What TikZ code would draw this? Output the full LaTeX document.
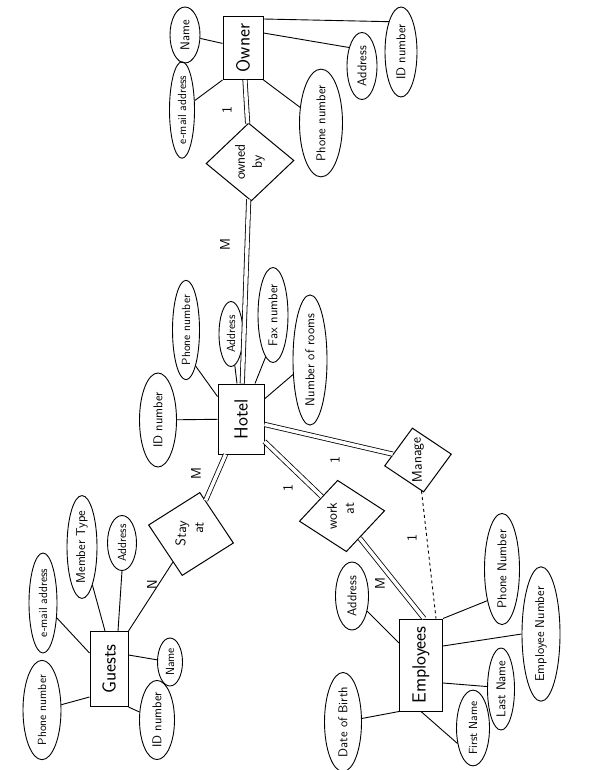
\documentclass[tikz,border=0pt]{standalone}
\usepackage{graphicx}
\usetikzlibrary{shapes.geometric}
\newcommand{\rtx}[1]{\rotatebox{90}{#1}}
\begin{document}
\begin{tikzpicture}[x=1pt,y=-1pt,
  ent/.style={draw,rectangle,line width=1pt,inner sep=0pt,font=\sffamily\fontsize{19}{21}\selectfont},
  attr/.style={draw,ellipse,line width=0.9pt,inner sep=0pt,font=\sffamily\fontsize{12.8}{15}\selectfont},
  sm/.style={font=\sffamily\fontsize{11.8}{14}\selectfont},
  rel/.style={draw,diamond,line width=1pt,inner sep=0pt,font=\sffamily\fontsize{14}{17}\selectfont},
  card/.style={font=\sffamily\fontsize{14}{16}\selectfont,rotate=90,inner sep=0pt},
  link/.style={line width=0.9pt},
  dlink/.style={double,double distance=3.5pt,line width=0.8pt},
]
\useasboundingbox (0,0) rectangle (592,770);

% entities
\node[ent,minimum width=40pt,minimum height=63pt] (owner) at (243,48) {\rtx{Owner}};
\node[ent,minimum width=46pt,minimum height=70pt] (hotel) at (241,419) {\rtx{Hotel}};
\node[ent,minimum width=38pt,minimum height=75pt] (guests) at (109,669) {\rtx{Guests}};
\node[ent,minimum width=43pt,minimum height=92pt] (emp) at (421,665) {\rtx{Employees}};

% relationships (shapes tilted, text kept upright-rotated)
\node[rel,rotate=92,minimum width=78pt,minimum height=88pt] (ownedby) at (250,162) {\rotatebox{-2}{\begin{tabular}{@{}c@{}}owned\\by\end{tabular}}};
\node[rel,rotate=78,minimum width=85pt,minimum height=87pt] (stayat) at (191,534) {\rotatebox{8}{\begin{tabular}{@{}r@{}}Stay\\at\end{tabular}}};
\node[rel,rotate=97,minimum width=72pt,minimum height=86pt] (workat) at (342,516) {\rotatebox{-7}{\begin{tabular}{@{}r@{}}work\\at\end{tabular}}};
\node[rel,rotate=100,minimum width=65pt,minimum height=68pt] (manage) at (418,460) {\rotatebox{-8}{Manage}};

% owner attributes
\node[attr,minimum width=30pt,minimum height=56pt] (oname) at (185,35) {\rtx{Name}};
\node[attr,sm,minimum width=25pt,minimum height=95pt] (oemail) at (182,110) {\rtx{e-mail address}};
\node[attr,minimum width=43pt,minimum height=93pt] (ophone) at (321,123) {\rtx{Phone number}};
\node[attr,minimum width=30pt,minimum height=67pt] (oaddr) at (362,66) {\rtx{Address}};
\node[attr,minimum width=32pt,minimum height=90pt] (oid) at (401,52) {\rtx{ID number}};

% hotel attributes
\node[attr,sm,minimum width=27pt,minimum height=94pt] (hphone) at (186,330) {\rtx{Phone number}};
\node[attr,sm,minimum width=24pt,minimum height=65pt] (haddr) at (231,334) {\rtx{Address}};
\node[attr,minimum width=30pt,minimum height=95pt] (hfax) at (273,315) {\rtx{Fax number}};
\node[attr,minimum width=34pt,minimum height=126pt] (hrooms) at (310,360) {\rtx{Number of rooms}};
\node[attr,minimum width=37pt,minimum height=94pt] (hid) at (158,420) {\rtx{ID number}};

% guests attributes
\node[attr,sm,minimum width=38pt,minimum height=95pt] (gphone) at (42,710) {\rtx{Phone number}};
\node[attr,sm,minimum width=28pt,minimum height=100pt] (gemail) at (43,603) {\rtx{e-mail address}};
\node[attr,minimum width=30pt,minimum height=95pt] (gtype) at (82,547) {\rtx{Member Type}};
\node[attr,sm,minimum width=29pt,minimum height=55pt] (gaddr) at (122,543) {\rtx{Address}};
\node[attr,sm,minimum width=25pt,minimum height=48pt] (gname) at (170,662) {\rtx{Name}};
\node[attr,minimum width=35pt,minimum height=78pt] (gid) at (157,720) {\rtx{ID number}};

% employee attributes
\node[attr,minimum width=33pt,minimum height=68pt] (eaddr) at (352,596) {\rtx{Address}};
\node[attr,minimum width=35pt,minimum height=108pt] (ephone) at (502,569) {\rtx{Phone Number}};
\node[attr,minimum width=38pt,minimum height=125pt] (enum) at (541,634) {\rtx{Employee Number}};
\node[attr,minimum width=27pt,minimum height=82pt] (elast) at (501,689) {\rtx{Last Name}};
\node[attr,sm,minimum width=33pt,minimum height=65pt] (efirst) at (473,728) {\rtx{First Name}};
\node[attr,minimum width=37pt,minimum height=83pt] (edob) at (343,722) {\rtx{Date of Birth}};

% owner links
\draw[link] (owner) -- (oname);
\draw[link] (owner.south west) -- (oemail);
\draw[link] (owner.south east) -- (ophone);
\draw[link] ([yshift=15pt]owner.east) -- (oaddr.125);
\draw[link] ([yshift=-3pt]owner.north east) -- (oid.112);

% hotel links
\draw[link] ([yshift=-13pt]hotel.north west) -- (hphone.-75);
\draw[link] (hotel) -- (hid);
\draw[link] ([xshift=-4pt]hotel.north) -- (haddr);
\draw[link] ([xshift=14pt]hotel.north) -- (hfax.-100);
\draw[link] (hotel) -- (hrooms);

% guests links
\draw[link] ([yshift=-28pt]guests.west) -- (gphone);
\draw[link] ([yshift=16pt]guests.west) -- (gemail);
\draw[link] ([xshift=-4pt]guests.north) -- (gtype);
\draw[link] ([xshift=9pt]guests.north) -- (gaddr.south);
\draw[link] ([yshift=14pt]guests.east) -- (gname);
\draw[link] (guests.south east) -- (gid);
\draw[link] (guests.north east) -- (stayat);

% employee links
\draw[link] (emp) -- (eaddr);
\draw[link] (emp.south west) -- (edob);
\draw[link] (emp.south) -- (efirst.225);
\draw[link] ([yshift=-18pt]emp.east) -- (elast.170);
\draw[link] ([yshift=19pt]emp.east) -- (enum.west);
\draw[link] (emp.north east) -- (ephone.-115);

% relationship links
\draw[dlink] (owner) -- (ownedby);
\draw[dlink] (ownedby) -- (hotel);
\draw[dlink] (hotel) -- (stayat);
\draw[dlink] (hotel) -- (workat);
\draw[dlink] (hotel) -- (manage);
\draw[dlink] (workat) -- ([xshift=3pt]emp.north);
\draw[link,dashed] (manage) -- ([xshift=15pt]emp.north);

% cardinalities
\node[card] (c1) at (227,110) {1};
\node[card] (c2) at (225,245) {M};
\node[card] (c3) at (196,474) {M};
\node[card] (c4) at (152,585) {N};
\node[card] (c5) at (288,488) {1};
\node[card] (c6) at (335,460) {1};
\node[card] (c7) at (380,584) {M};
\node[card] (c8) at (412,538) {1};
\end{tikzpicture}
\end{document}
